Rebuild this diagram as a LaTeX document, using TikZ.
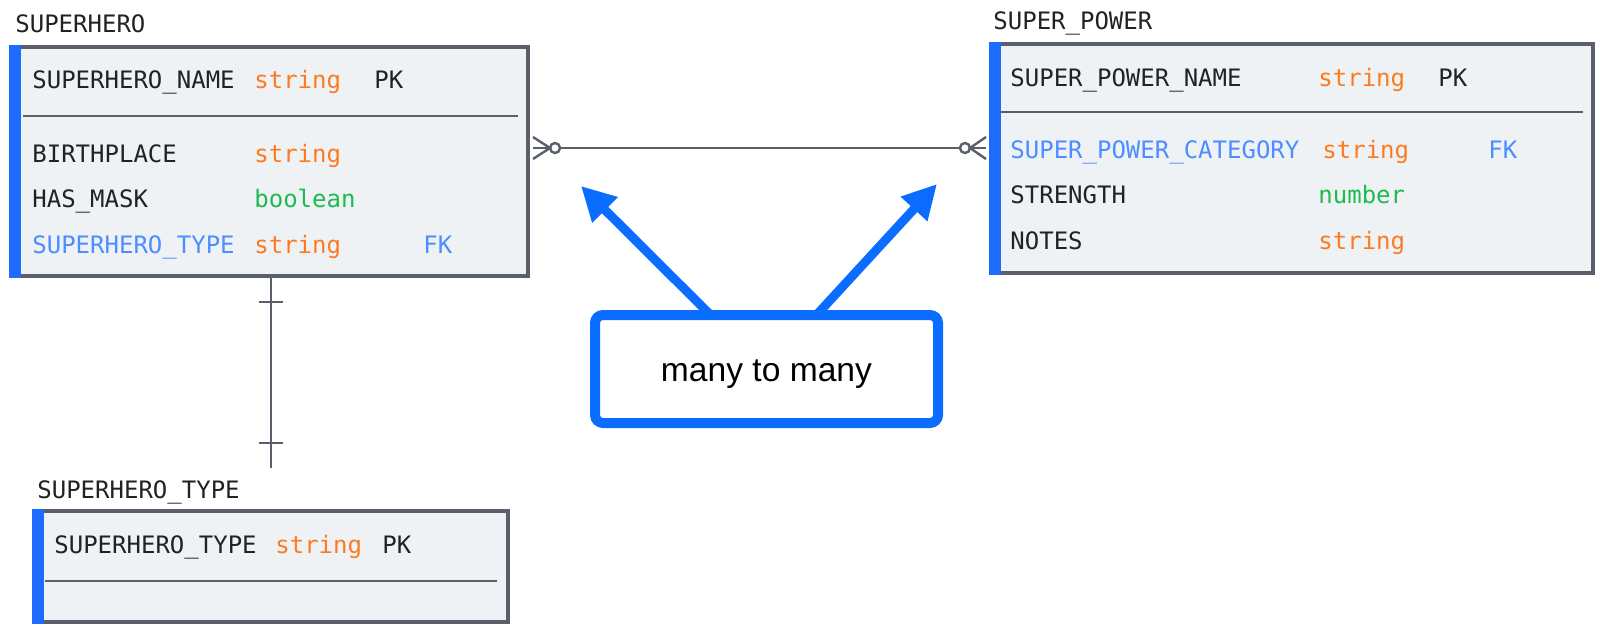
\documentclass[tikz,border=0pt]{standalone}
\usepackage{fontspec}
\setmainfont{Liberation Sans}
\setmonofont{DejaVu Sans Mono}
\usetikzlibrary{arrows.meta,shadows}

\definecolor{boxfill}{HTML}{EFF2F5}
\definecolor{boxline}{HTML}{5B5F6B}
\definecolor{barblue}{HTML}{1E6BFF}
\definecolor{txtdark}{HTML}{222222}
\definecolor{typeorange}{HTML}{FF7A1F}
\definecolor{typegreen}{HTML}{1FBA4F}
\definecolor{fkblue}{HTML}{4D8DFF}
\definecolor{noteblue}{HTML}{0B6DFF}

\newcommand{\erfont}{\ttfamily\fontsize{12}{14}\selectfont}

\tikzset{
  entity/.style   = {shape=rectangle, draw=boxline, fill=boxfill,
                     line width=2pt, anchor=north west,
                     inner sep=0pt, outer sep=0pt},
  title/.style    = {anchor=base west, inner sep=0pt, font=\erfont,
                     text=txtdark},
  attr/.style     = {title},
  fkattr/.style   = {attr, text=fkblue},
  strtype/.style  = {attr, text=typeorange},
  booltype/.style = {attr, text=typegreen},
  sepline/.style  = {draw=boxline, line width=1pt},
  relline/.style  = {draw=boxline, line width=1.2pt},
  callout/.style  = {shape=rectangle, rounded corners=4pt, draw=noteblue,
                     fill=white, line width=5pt, outer sep=0pt,
                     minimum width=171.5pt, minimum height=54pt,
                     font=\rmfamily\fontsize{16.8}{20}\selectfont,
                     drop shadow={opacity=0.15, shadow xshift=-0.8pt,
                                  shadow yshift=-0.8pt}},
  pointer/.style  = {draw=noteblue, line width=4.5pt,
                     -{Triangle[length=17pt, width=17pt]}}
}

\begin{document}
\begin{tikzpicture}[x=0.5pt, y=-0.5pt]
\useasboundingbox (0,0) rectangle (1602,632);

% entities
\node[entity, minimum width=258.5pt, minimum height=114.5pt] (hero) at (11,47) {};
\node[entity, minimum width=301pt, minimum height=114.5pt] (power) at (991,44) {};
\node[entity, minimum width=237pt, minimum height=55.5pt] (htype) at (34,511) {};

\fill[barblue] ([xshift=-1pt,yshift=1pt]hero.north west) rectangle ([xshift=5pt,yshift=-1pt]hero.south west);
\fill[barblue] ([xshift=-1pt,yshift=1pt]power.north west) rectangle ([xshift=5pt,yshift=-1pt]power.south west);
\fill[barblue] ([xshift=-1pt,yshift=1pt]htype.north west) rectangle ([xshift=5pt,yshift=-1pt]htype.south west);

\draw[sepline] (23,116) -- (518,116);
\draw[sepline] (1001,112) -- (1583,112);
\draw[sepline] (45,581) -- (497,581);

% SUPERHERO
\node[title] (heroT) at (15,32) {SUPERHERO};
\node[attr] (h1) at (32,88) {SUPERHERO\_NAME};
\node[strtype] (h1t) at (254,88) {string};
\node[attr] (h1k) at (374,88) {PK};
\node[attr] (h2) at (32,162) {BIRTHPLACE};
\node[strtype] (h2t) at (254,162) {string};
\node[attr] (h3) at (32,207) {HAS\_MASK};
\node[booltype] (h3t) at (254,207) {boolean};
\node[fkattr] (h4) at (32,253) {SUPERHERO\_TYPE};
\node[strtype] (h4t) at (254,253) {string};
\node[fkattr] (h4k) at (423,253) {FK};

% SUPER_POWER
\node[title] (powerT) at (993,29) {SUPER\_POWER};
\node[attr] (p1) at (1010,86) {SUPER\_POWER\_NAME};
\node[strtype] (p1t) at (1318,86) {string};
\node[attr] (p1k) at (1438,86) {PK};
\node[fkattr] (p2) at (1010,158) {SUPER\_POWER\_CATEGORY};
\node[strtype] (p2t) at (1322,158) {string};
\node[fkattr] (p2k) at (1488,158) {FK};
\node[attr] (p3) at (1010,203) {STRENGTH};
\node[booltype] (p3t) at (1318,203) {number};
\node[attr] (p4) at (1010,249) {NOTES};
\node[strtype] (p4t) at (1318,249) {string};

% SUPERHERO_TYPE
\node[title] (htypeT) at (37,498) {SUPERHERO\_TYPE};
\node[attr] (t1) at (54,553) {SUPERHERO\_TYPE};
\node[strtype] (t1t) at (275,553) {string};
\node[attr] (t1k) at (382,553) {PK};

% one to one
\coordinate (htEnd) at (271,468);
\draw[relline] (htEnd |- hero.south) -- (htEnd);
\draw[relline] (259,302) -- (283,302);
\draw[relline] (259,443) -- (283,443);

% many to many
\coordinate (hpL) at (hero.north east |- 0,148);
\coordinate (hpR) at (power.north west |- 0,148);
\draw[relline] ([xshift=2.5pt,yshift=5.5pt]hpL) -- ([xshift=11pt]hpL) -- ([xshift=2.5pt,yshift=-5.5pt]hpL);
\draw[relline] ([xshift=2.5pt]hpL) -- ([xshift=11pt]hpL);
\draw[relline] ([xshift=13.5pt]hpL) circle (2.5pt);
\draw[relline] ([xshift=-2.5pt,yshift=5.5pt]hpR) -- ([xshift=-10.5pt]hpR) -- ([xshift=-2.5pt,yshift=-5.5pt]hpR);
\draw[relline] ([xshift=-2.5pt]hpR) -- ([xshift=-10.5pt]hpR);
\draw[relline] ([xshift=-13pt]hpR) circle (2.5pt);
\draw[relline] ([xshift=16pt]hpL) -- ([xshift=-15.5pt]hpR);

% note
\node[callout] (note) at (766.5,369) {\raisebox{-2.5pt}[\height][\depth]{many to many}};
\coordinate (tipL) at (581,186);
\coordinate (tipR) at (937,184);
\draw[pointer] ([xshift=-28pt]note.north) -- (tipL);
\draw[pointer] ([xshift=25pt]note.north) -- (tipR);
\end{tikzpicture}
\end{document}
